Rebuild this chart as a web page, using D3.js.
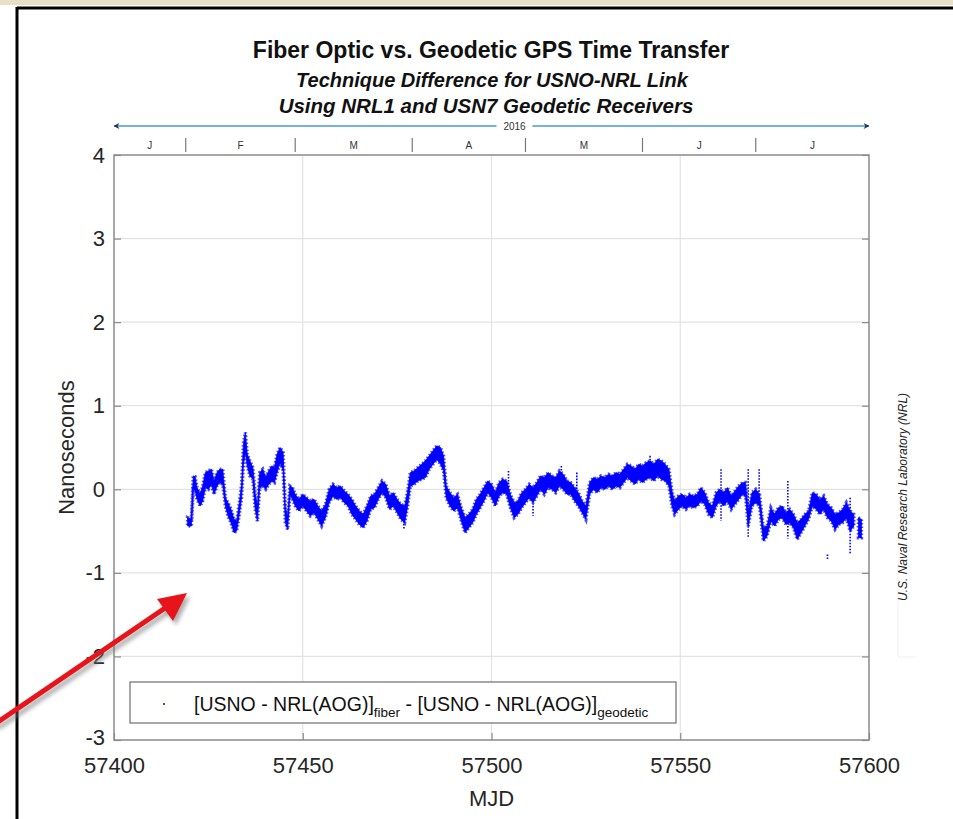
<!DOCTYPE html>
<html>
<head>
<meta charset="utf-8">
<script src="https://cdn.jsdelivr.net/npm/d3@7"></script>
<style>
  body { margin: 0; background: #fff; }
  text { font-family: "Liberation Sans", Arial, sans-serif; }
</style>
</head>
<body>
<script>
var width = 953;
var height = 819;

// axis ticks
var xTicks = [57400, 57450, 57500, 57550, 57600];
var yTicks = [-3, -2, -1, 0, 1, 2, 3, 4];

// month starts of 2016 (MJD) and their labels
var monthStart = [57388, 57419, 57448, 57479, 57509, 57540, 57570, 57601];
var monthLabel = ['J', 'F', 'M', 'A', 'M', 'J', 'J'];

// band of the difference series: day (MJD), lower and upper edge in ns (null = gap)
var mjd = [57419.5, 57420.5, 57421, 57421.5, 57422, 57422.8, 57423.5, 57424.2, 57425, 57425.8,
  57426.5, 57427.3, 57428, 57428.8, 57429.5, 57430.2, 57431, 57431.8, 57432.5, 57433.2,
  57433.8, 57434.3, 57434.8, 57435.3, 57436, 57436.8, 57437.4, 57438, 57438.6, 57439.4,
  57440.2, 57441, 57441.8, 57442.5, 57443.2, 57444, 57444.8, 57445.4, 57446, 57446.6,
  57447.3, 57448, 57449, 57450, 57451, 57452, 57453, 57454, 57455, 57456,
  57457, 57458, 57459, 57460, 57461, 57462, 57463, 57464, 57465, 57466,
  57467, 57468, 57469, 57470, 57471, 57472, 57473, 57474, 57475, 57476,
  57477, 57477.8, 57478.5, 57479.5, 57480.5, 57481.5, 57482.5, 57483.5, 57484.5, 57485.5,
  57486.5, 57487.3, 57488, 57489, 57490, 57491, 57492, 57493, 57494, 57495,
  57496, 57497, 57498, 57499, 57500, 57501, 57502, 57503, 57504, 57505,
  57506, 57507, 57508, 57509, 57510, 57511, 57512, 57513, 57514, 57515,
  57516, 57517, 57518, 57519, 57520, 57521, 57522, 57523, 57524, 57525,
  57526, 57527, 57528, 57529, 57530, 57531, 57532, 57533, 57534, 57535,
  57536, 57537, 57538, 57539, 57540, 57541, 57542, 57543, 57544, 57545,
  57546, 57547, 57547.8, 57548.5, 57549.5, 57550.5, 57551.5, 57552.5, 57553.5, 57554.5,
  57555.5, 57556.5, 57557.5, 57558.5, 57559.5, 57560.5, 57561.5, 57562.5, 57563.5, 57564.5,
  57565.5, 57566.5, 57567.3, 57568, 57569, 57570, 57571, 57572, 57573, 57574,
  57575, 57576, 57577, 57578, 57579, 57580, 57581, 57582, 57583, 57584,
  57585, 57586, 57587, 57588, 57589, 57590, 57591, 57592, 57593, 57594,
  57595, 57596, 57596.6, 57597.2, 57598];
var lowNs = [-0.44, -0.44, 0.0, -0.02, -0.12, -0.2, -0.14, 0.02, 0.0, 0.06,
  -0.06, 0.04, 0.08, 0.06, -0.2, -0.32, -0.4, -0.52, -0.5, -0.3,
  -0.1, 0.3, 0.44, 0.28, 0.16, 0.12, -0.24, -0.38, 0.02, 0.04,
  0.0, 0.06, 0.1, 0.08, 0.2, 0.32, 0.22, -0.4, -0.48, -0.06,
  -0.12, -0.2, -0.26, -0.2, -0.26, -0.32, -0.28, -0.36, -0.44, -0.34,
  -0.16, -0.08, -0.12, -0.1, -0.16, -0.2, -0.3, -0.36, -0.42, -0.46,
  -0.38, -0.24, -0.22, -0.12, -0.04, -0.1, -0.24, -0.2, -0.28, -0.36,
  -0.4, -0.2, 0.04, 0.06, 0.1, 0.12, 0.14, 0.24, 0.3, 0.36,
  0.3, 0.22, -0.1, -0.2, -0.26, -0.22, -0.38, -0.52, -0.46, -0.4,
  -0.3, -0.22, -0.14, -0.04, -0.1, -0.2, -0.08, -0.04, -0.06, -0.22,
  -0.34, -0.3, -0.22, -0.16, -0.1, -0.16, -0.08, 0.0, -0.06, 0.02,
  0.0, -0.04, 0.04, 0.0, -0.06, -0.06, -0.14, -0.2, -0.28, -0.36,
  -0.06, 0.0, -0.04, 0.02, 0.0, 0.04, 0.0, 0.04, 0.02, 0.08,
  0.14, 0.1, 0.06, 0.12, 0.08, 0.12, 0.14, 0.1, 0.16, 0.12,
  0.1, 0.04, -0.2, -0.3, -0.24, -0.2, -0.24, -0.2, -0.22, -0.2,
  -0.14, -0.18, -0.3, -0.34, -0.2, -0.14, -0.2, -0.14, -0.24, -0.18,
  -0.12, -0.06, -0.08, -0.44, -0.2, -0.16, -0.2, -0.62, -0.56, -0.38,
  -0.44, -0.36, -0.34, -0.42, -0.4, -0.46, -0.6, -0.52, -0.44, -0.36,
  -0.2, -0.24, -0.3, -0.24, -0.34, -0.38, -0.48, -0.42, -0.4, -0.34,
  -0.5, -0.44, null, -0.58, -0.58];
var highNs = [-0.34, -0.36, 0.16, 0.15, 0.02, -0.06, 0.04, 0.2, 0.22, 0.24,
  0.1, 0.2, 0.24, 0.24, -0.1, -0.16, -0.24, -0.36, -0.38, -0.16,
  0.06, 0.55, 0.68, 0.42, 0.34, 0.26, -0.06, -0.2, 0.2, 0.24,
  0.14, 0.22, 0.28, 0.26, 0.42, 0.5, 0.44, -0.22, -0.34, 0.04,
  0.02, -0.06, -0.12, -0.06, -0.1, -0.14, -0.12, -0.2, -0.26, -0.18,
  0.0, 0.06, 0.02, 0.04, -0.02, -0.06, -0.12, -0.2, -0.26, -0.3,
  -0.2, -0.08, -0.06, 0.02, 0.1, 0.06, -0.08, -0.04, -0.12, -0.18,
  -0.2, -0.02, 0.2, 0.22, 0.26, 0.3, 0.34, 0.4, 0.46, 0.52,
  0.5, 0.4, 0.04, -0.04, -0.1, -0.06, -0.22, -0.34, -0.3, -0.24,
  -0.12, -0.06, 0.02, 0.1, 0.06, -0.04, 0.08, 0.12, 0.1, -0.06,
  -0.16, -0.14, -0.04, 0.0, 0.06, 0.02, 0.08, 0.16, 0.14, 0.2,
  0.16, 0.14, 0.22, 0.18, 0.1, 0.08, 0.02, -0.04, -0.14, -0.2,
  0.08, 0.14, 0.12, 0.16, 0.14, 0.18, 0.16, 0.2, 0.18, 0.24,
  0.3, 0.28, 0.24, 0.3, 0.28, 0.32, 0.34, 0.3, 0.36, 0.34,
  0.3, 0.24, -0.02, -0.14, -0.08, -0.06, -0.1, -0.06, -0.08, -0.06,
  0.02, -0.04, -0.16, -0.2, -0.04, 0.0, -0.04, 0.02, -0.08, -0.02,
  0.04, 0.08, 0.08, -0.28, -0.04, 0.0, -0.06, -0.46, -0.44, -0.22,
  -0.3, -0.22, -0.2, -0.28, -0.24, -0.3, -0.4, -0.36, -0.3, -0.26,
  -0.04, -0.06, -0.12, -0.08, -0.18, -0.22, -0.3, -0.28, -0.24, -0.16,
  -0.26, -0.3, null, -0.34, -0.36];

// isolated outlier streaks: day, top and bottom in ns
var spikeMjd = [57476.8, 57504.5, 57511, 57518.5, 57522.6, 57542, 57560.8, 57568, 57570.9, 57578.5, 57589, 57595];
var spikeTop = [-0.2, 0.22, -0.2, 0.28, 0.2, 0.4, 0.24, 0.24, 0.24, 0.1, -0.78, -0.1];
var spikeBot = [-0.46, 0.0, -0.3, 0.1, 0.0, 0.2, -0.36, -0.56, -0.1, -0.57, -0.82, -0.75];

var margin = { top: 155, right: 84, bottom: 79, left: 114 };
var plotW = width - margin.left - margin.right;
var plotH = height - margin.top - margin.bottom;

var xScale = d3.scaleLinear().domain([57400, 57600]).range([margin.left, margin.left + plotW]);
var yScale = d3.scaleLinear().domain([-3, 4]).range([margin.top + plotH, margin.top]);

var svg = d3.select('body').append('svg')
  .attr('width', width)
  .attr('height', height);

svg.append('rect').attr('width', width).attr('height', height).attr('fill', '#fff');

// strip of the slide above the frame
svg.append('rect').attr('x', 0).attr('y', 0).attr('width', width).attr('height', 5).attr('fill', '#e9dfc6');
// slide frame
svg.append('line').attr('x1', 17).attr('x2', width).attr('y1', 8).attr('y2', 8)
  .style('stroke', '#000').style('stroke-width', 3);
svg.append('line').attr('x1', 17).attr('x2', 17).attr('y1', 7).attr('y2', height)
  .style('stroke', '#000').style('stroke-width', 3);

// titles
svg.append('text').attr('x', 491).attr('y', 58).attr('text-anchor', 'middle')
  .style('font-size', '23px').style('font-weight', 'bold').style('fill', '#111')
  .text('Fiber Optic vs. Geodetic GPS Time Transfer');
svg.append('text').attr('x', 492).attr('y', 87).attr('text-anchor', 'middle')
  .style('font-size', '20px').style('font-weight', 'bold').style('font-style', 'italic').style('fill', '#111')
  .text('Technique Difference for USNO-NRL Link');
svg.append('text').attr('x', 486).attr('y', 113).attr('text-anchor', 'middle')
  .style('font-size', '20.5px').style('font-weight', 'bold').style('font-style', 'italic').style('fill', '#111')
  .text('Using NRL1 and USN7 Geodetic Receivers');

// year arrow
var arrowY = 126;
var defs = svg.append('defs');
defs.append('marker').attr('id', 'headR').attr('viewBox', '0 0 10 10').attr('refX', 9).attr('refY', 5)
  .attr('markerWidth', 8).attr('markerHeight', 6).attr('markerUnits', 'userSpaceOnUse').attr('orient', 'auto')
  .append('path').attr('d', 'M0,0 L10,5 L0,10 L3,5 Z').attr('fill', '#1d3550');
defs.append('marker').attr('id', 'headL').attr('viewBox', '0 0 10 10').attr('refX', 9).attr('refY', 5)
  .attr('markerWidth', 8).attr('markerHeight', 6).attr('markerUnits', 'userSpaceOnUse').attr('orient', 'auto-start-reverse')
  .append('path').attr('d', 'M0,0 L10,5 L0,10 L3,5 Z').attr('fill', '#1d3550');
var yearX = xScale(57500) + 23;
svg.append('line').attr('x1', xScale(57400)).attr('x2', yearX - 18).attr('y1', arrowY).attr('y2', arrowY)
  .style('stroke', '#4a98d3').style('stroke-width', 1.5).attr('marker-start', 'url(#headL)');
svg.append('line').attr('x1', yearX + 18).attr('x2', xScale(57600)).attr('y1', arrowY).attr('y2', arrowY)
  .style('stroke', '#4a98d3').style('stroke-width', 1.5).attr('marker-end', 'url(#headR)');
svg.append('text').attr('x', yearX).attr('y', arrowY + 3.5).attr('text-anchor', 'middle')
  .style('font-size', '10px').style('fill', '#333').text('2016');

// month band
var monthG = svg.append('g');
monthStart.forEach(function (m, i) {
  if (m > 57400 && m < 57600) {
    monthG.append('line').attr('x1', xScale(m)).attr('x2', xScale(m)).attr('y1', 138).attr('y2', 152)
      .style('stroke', '#777').style('stroke-width', 1.2);
  }
  if (i < monthLabel.length) {
    var a = Math.max(m, 57400), b = Math.min(monthStart[i + 1], 57600);
    monthG.append('text').attr('x', (xScale(a) + xScale(b)) / 2).attr('y', 149).attr('text-anchor', 'middle')
      .style('font-size', '10px').style('fill', '#333').text(monthLabel[i]);
  }
});

// grid
var grid = svg.append('g');
grid.selectAll('line.gx').data(xTicks.slice(1, -1)).enter().append('line')
  .attr('x1', function (d) { return xScale(d); }).attr('x2', function (d) { return xScale(d); })
  .attr('y1', margin.top).attr('y2', margin.top + plotH)
  .style('stroke', '#e3e3e3').style('stroke-width', 1.2);
grid.selectAll('line.gy').data(yTicks.slice(1, -1)).enter().append('line')
  .attr('x1', margin.left).attr('x2', margin.left + plotW)
  .attr('y1', function (d) { return yScale(d); }).attr('y2', function (d) { return yScale(d); })
  .style('stroke', '#e3e3e3').style('stroke-width', 1.2);

// faint box behind the side credit
svg.append('path').attr('d', 'M898,560 V657 H917').attr('fill', 'none')
  .style('stroke', '#f0f0f0').style('stroke-width', 1);

// data band
var rows = mjd.map(function (d, i) { return { t: d, lo: lowNs[i], hi: highNs[i] }; });
var band = d3.area()
  .defined(function (d) { return d.lo !== null; })
  .x(function (d) { return xScale(d.t); })
  .y0(function (d) { return yScale(d.lo); })
  .y1(function (d) { return yScale(d.hi); });
// fuzzy halo of scattered points around the band
svg.append('path').datum(rows).attr('d', band)
  .style('fill', 'none').style('stroke', '#0000ff').style('stroke-width', 3.5)
  .style('stroke-dasharray', '1.5,2').style('opacity', 0.7);
svg.append('path').datum(rows).attr('d', band)
  .style('fill', '#0000ff').style('stroke', '#0000ff').style('stroke-width', 0.8)
  .style('stroke-linejoin', 'bevel');

svg.selectAll('line.spike').data(spikeMjd).enter().append('line')
  .attr('x1', function (d) { return xScale(d); }).attr('x2', function (d) { return xScale(d); })
  .attr('y1', function (d, i) { return yScale(spikeTop[i]); })
  .attr('y2', function (d, i) { return yScale(spikeBot[i]) + 1.5; })
  .style('stroke', '#0000ff').style('stroke-width', 1.6).style('stroke-dasharray', '1.6,1.4');

// axes box
var axG = svg.append('g');
axG.append('rect').attr('x', margin.left).attr('y', margin.top).attr('width', plotW).attr('height', plotH)
  .attr('fill', 'none').style('stroke', '#8a8a8a').style('stroke-width', 1.5);

var plainNum = function (d) { return String(d); };

var xAxis = d3.axisBottom(xScale).tickValues(xTicks).tickSize(-7).tickPadding(17).tickFormat(plainNum);
var gx = svg.append('g').attr('transform', 'translate(0,' + (margin.top + plotH) + ')').call(xAxis);
gx.select('.domain').remove();
gx.selectAll('.tick line').style('stroke', '#8a8a8a').style('stroke-width', 1.2);
gx.selectAll('.tick text').style('font-size', '22px').style('fill', '#262626')
  .style('font-family', '"Liberation Sans", Arial, sans-serif');

var yAxis = d3.axisLeft(yScale).tickValues(yTicks).tickSize(-7).tickPadding(9).tickFormat(plainNum);
var gy = svg.append('g').attr('transform', 'translate(' + margin.left + ',0)').call(yAxis);
gy.select('.domain').remove();
gy.selectAll('.tick line').style('stroke', '#8a8a8a').style('stroke-width', 1.2);
gy.selectAll('.tick text').style('font-size', '22px').style('fill', '#262626')
  .style('font-family', '"Liberation Sans", Arial, sans-serif');
// the lowest label sits a touch higher so it clears the MJD numbers
gy.selectAll('.tick text').filter(function (d) { return d === -3; }).attr('dy', '0.2em');

// right-side ticks
var yAxisR = d3.axisRight(yScale).tickValues(yTicks).tickSize(-7).tickFormat('');
var gyr = svg.append('g').attr('transform', 'translate(' + (margin.left + plotW) + ',0)').call(yAxisR);
gyr.select('.domain').remove();
gyr.selectAll('.tick line').style('stroke', '#8a8a8a').style('stroke-width', 1.2);

// axis labels
svg.append('text').attr('x', xScale(57500)).attr('y', 806).attr('text-anchor', 'middle')
  .style('font-size', '22px').style('fill', '#262626').text('MJD');
svg.append('text').attr('transform', 'translate(74,' + yScale(0.5) + ') rotate(-90)').attr('text-anchor', 'middle')
  .style('font-size', '22px').style('fill', '#262626').text('Nanoseconds');

// side credit
svg.append('text').attr('transform', 'translate(907,497) rotate(-90)').attr('text-anchor', 'middle')
  .style('font-size', '12px').style('font-style', 'italic').style('fill', '#222')
  .text('U.S. Naval Research Laboratory (NRL)');

// legend
var lg = svg.append('g');
lg.append('rect').attr('x', 130).attr('y', 682).attr('width', 546).attr('height', 41)
  .attr('fill', '#fff').style('stroke', '#6e6e6e').style('stroke-width', 1.2);
lg.append('circle').attr('cx', 164).attr('cy', 704).attr('r', 1).attr('fill', '#0000ff');
var lt = lg.append('text').attr('x', 194).attr('y', 711).style('font-size', '19.5px').style('fill', '#111');
lt.append('tspan').text('[USNO - NRL(AOG)]');
lt.append('tspan').attr('dy', 6).style('font-size', '13.5px').text('fiber');
lt.append('tspan').attr('dy', -6).text(' - [USNO - NRL(AOG)]');
lt.append('tspan').attr('dy', 6).style('font-size', '13.5px').text('geodetic');

// red pointer arrow with shadow
var shadow = defs.append('filter').attr('id', 'blur').attr('x', '-20%').attr('y', '-20%').attr('width', '140%').attr('height', '140%');
shadow.append('feGaussianBlur').attr('stdDeviation', 2);
var arrowPath = 'M-5,724 L168,606';
var headPath = 'M187,593 L157,599 L173,621 Z';
svg.append('path').attr('d', arrowPath).attr('transform', 'translate(3,4)')
  .style('stroke', '#777').style('stroke-width', 5).style('fill', 'none').attr('filter', 'url(#blur)').style('opacity', 0.6);
svg.append('path').attr('d', headPath).attr('transform', 'translate(3,4)')
  .style('fill', '#777').attr('filter', 'url(#blur)').style('opacity', 0.6);
svg.append('path').attr('d', arrowPath).style('stroke', '#e8141a').style('stroke-width', 5).style('fill', 'none');
svg.append('path').attr('d', headPath).style('fill', '#e8141a');
</script>
</body>
</html>
